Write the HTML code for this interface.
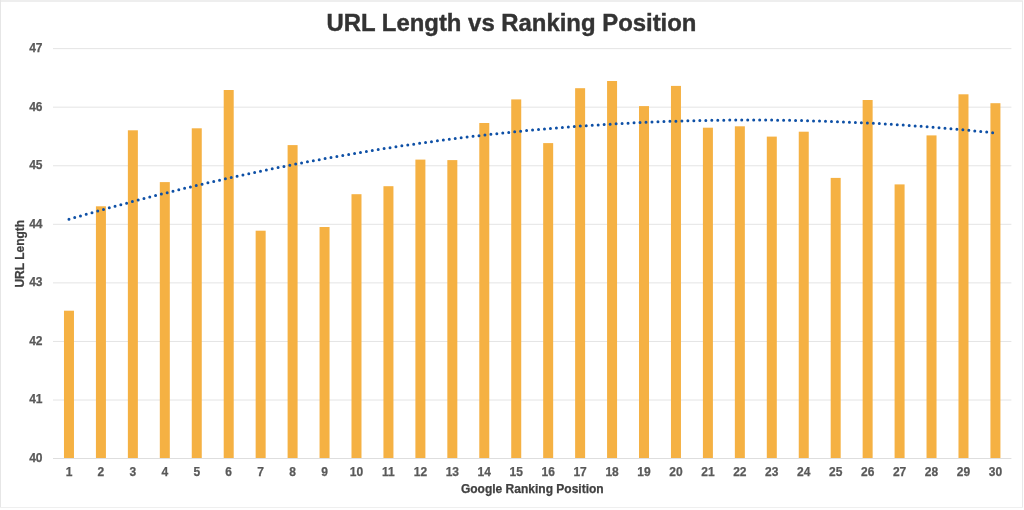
<!DOCTYPE html>
<html><head><meta charset="utf-8"><style>
html,body{margin:0;padding:0;background:#fff;}
body{width:1024px;height:510px;overflow:hidden;}
svg{display:block;will-change:transform;}
text{font-family:"Liberation Sans",Arial,sans-serif;font-weight:bold;}
</style></head><body>
<svg width="1024" height="510" viewBox="0 0 1024 510">
<rect x="0" y="0" width="1024" height="510" fill="#fff"/>
<rect x="0" y="0" width="1023" height="2" fill="#eeeeee"/>
<rect x="0" y="0" width="1" height="508" fill="#e6e6e6"/>
<rect x="1022" y="1" width="1" height="507" fill="#e8e8e8"/>
<rect x="0" y="507" width="1023" height="1" fill="#efefef"/>
<g stroke="#e4e4e4" stroke-width="1"><line x1="53.0" y1="400.03" x2="1011.4" y2="400.03"/><line x1="53.0" y1="341.46" x2="1011.4" y2="341.46"/><line x1="53.0" y1="282.89" x2="1011.4" y2="282.89"/><line x1="53.0" y1="224.32" x2="1011.4" y2="224.32"/><line x1="53.0" y1="165.75" x2="1011.4" y2="165.75"/><line x1="53.0" y1="107.18" x2="1011.4" y2="107.18"/><line x1="53.0" y1="48.61" x2="1011.4" y2="48.61"/></g>
<rect x="53.0" y="458" width="958.40" height="1" fill="#dedede"/>
<g fill="#f5b143"><rect x="63.97" y="310.70" width="10.0" height="147.30"/><rect x="95.92" y="206.30" width="10.0" height="251.70"/><rect x="127.87" y="130.30" width="10.0" height="327.70"/><rect x="159.81" y="182.10" width="10.0" height="275.90"/><rect x="191.76" y="128.30" width="10.0" height="329.70"/><rect x="223.71" y="90.00" width="10.0" height="368.00"/><rect x="255.65" y="230.70" width="10.0" height="227.30"/><rect x="287.60" y="145.10" width="10.0" height="312.90"/><rect x="319.55" y="227.00" width="10.0" height="231.00"/><rect x="351.49" y="194.20" width="10.0" height="263.80"/><rect x="383.44" y="186.20" width="10.0" height="271.80"/><rect x="415.39" y="159.60" width="10.0" height="298.40"/><rect x="447.33" y="160.10" width="10.0" height="297.90"/><rect x="479.28" y="123.00" width="10.0" height="335.00"/><rect x="511.23" y="99.40" width="10.0" height="358.60"/><rect x="543.17" y="143.10" width="10.0" height="314.90"/><rect x="575.12" y="88.20" width="10.0" height="369.80"/><rect x="607.07" y="81.00" width="10.0" height="377.00"/><rect x="639.01" y="106.10" width="10.0" height="351.90"/><rect x="670.96" y="85.90" width="10.0" height="372.10"/><rect x="702.91" y="127.70" width="10.0" height="330.30"/><rect x="734.85" y="126.30" width="10.0" height="331.70"/><rect x="766.80" y="136.60" width="10.0" height="321.40"/><rect x="798.75" y="131.70" width="10.0" height="326.30"/><rect x="830.69" y="177.90" width="10.0" height="280.10"/><rect x="862.64" y="100.00" width="10.0" height="358.00"/><rect x="894.59" y="184.40" width="10.0" height="273.60"/><rect x="926.53" y="135.40" width="10.0" height="322.60"/><rect x="958.48" y="94.30" width="10.0" height="363.70"/><rect x="990.43" y="103.20" width="10.0" height="354.80"/></g>
<path d="M68.97,219.26 L72.07,218.35 L75.17,217.46 L78.27,216.56 L81.37,215.67 L84.47,214.79 L87.56,213.90 L90.66,213.03 L93.76,212.15 L96.86,211.28 L99.96,210.42 L103.06,209.56 L106.16,208.70 L109.25,207.85 L112.35,207.00 L115.45,206.15 L118.55,205.31 L121.65,204.48 L124.75,203.64 L127.84,202.82 L130.94,201.99 L134.04,201.17 L137.14,200.36 L140.24,199.54 L143.34,198.74 L146.44,197.93 L149.53,197.13 L152.63,196.34 L155.73,195.55 L158.83,194.76 L161.93,193.98 L165.03,193.20 L168.13,192.42 L171.22,191.65 L174.32,190.89 L177.42,190.13 L180.52,189.37 L183.62,188.61 L186.72,187.86 L189.82,187.12 L192.91,186.38 L196.01,185.64 L199.11,184.91 L202.21,184.18 L205.31,183.45 L208.41,182.73 L211.50,182.01 L214.60,181.30 L217.70,180.59 L220.80,179.89 L223.90,179.19 L227.00,178.49 L230.10,177.80 L233.19,177.11 L236.29,176.43 L239.39,175.75 L242.49,175.07 L245.59,174.40 L248.69,173.73 L251.79,173.07 L254.88,172.41 L257.98,171.75 L261.08,171.10 L264.18,170.46 L267.28,169.81 L270.38,169.17 L273.47,168.54 L276.57,167.91 L279.67,167.28 L282.77,166.66 L285.87,166.04 L288.97,165.43 L292.07,164.82 L295.16,164.21 L298.26,163.61 L301.36,163.01 L304.46,162.42 L307.56,161.83 L310.66,161.25 L313.76,160.66 L316.85,160.09 L319.95,159.52 L323.05,158.95 L326.15,158.38 L329.25,157.82 L332.35,157.27 L335.44,156.71 L338.54,156.17 L341.64,155.62 L344.74,155.08 L347.84,154.55 L350.94,154.01 L354.04,153.49 L357.13,152.96 L360.23,152.44 L363.33,151.93 L366.43,151.42 L369.53,150.91 L372.63,150.41 L375.73,149.91 L378.82,149.42 L381.92,148.93 L385.02,148.44 L388.12,147.96 L391.22,147.48 L394.32,147.01 L397.41,146.54 L400.51,146.07 L403.61,145.61 L406.71,145.15 L409.81,144.70 L412.91,144.25 L416.01,143.80 L419.10,143.36 L422.20,142.93 L425.30,142.49 L428.40,142.06 L431.50,141.64 L434.60,141.22 L437.70,140.80 L440.79,140.39 L443.89,139.98 L446.99,139.58 L450.09,139.18 L453.19,138.78 L456.29,138.39 L459.39,138.01 L462.48,137.62 L465.58,137.24 L468.68,136.87 L471.78,136.50 L474.88,136.13 L477.98,135.77 L481.07,135.41 L484.17,135.05 L487.27,134.70 L490.37,134.36 L493.47,134.02 L496.57,133.68 L499.67,133.34 L502.76,133.02 L505.86,132.69 L508.96,132.37 L512.06,132.05 L515.16,131.74 L518.26,131.43 L521.36,131.12 L524.45,130.82 L527.55,130.53 L530.65,130.23 L533.75,129.94 L536.85,129.66 L539.95,129.38 L543.04,129.10 L546.14,128.83 L549.24,128.56 L552.34,128.30 L555.44,128.04 L558.54,127.79 L561.64,127.53 L564.73,127.29 L567.83,127.04 L570.93,126.80 L574.03,126.57 L577.13,126.34 L580.23,126.11 L583.33,125.89 L586.42,125.67 L589.52,125.46 L592.62,125.25 L595.72,125.04 L598.82,124.84 L601.92,124.64 L605.01,124.45 L608.11,124.26 L611.21,124.07 L614.31,123.89 L617.41,123.71 L620.51,123.54 L623.61,123.37 L626.70,123.21 L629.80,123.05 L632.90,122.89 L636.00,122.74 L639.10,122.59 L642.20,122.44 L645.30,122.30 L648.39,122.17 L651.49,122.04 L654.59,121.91 L657.69,121.78 L660.79,121.66 L663.89,121.55 L666.99,121.44 L670.08,121.33 L673.18,121.23 L676.28,121.13 L679.38,121.03 L682.48,120.94 L685.58,120.86 L688.67,120.77 L691.77,120.69 L694.87,120.62 L697.97,120.55 L701.07,120.48 L704.17,120.42 L707.27,120.36 L710.36,120.31 L713.46,120.26 L716.56,120.22 L719.66,120.18 L722.76,120.14 L725.86,120.10 L728.96,120.08 L732.05,120.05 L735.15,120.03 L738.25,120.01 L741.35,120.00 L744.45,119.99 L747.55,119.99 L750.64,119.99 L753.74,119.99 L756.84,120.00 L759.94,120.01 L763.04,120.03 L766.14,120.05 L769.24,120.07 L772.33,120.10 L775.43,120.14 L778.53,120.17 L781.63,120.21 L784.73,120.26 L787.83,120.31 L790.93,120.36 L794.02,120.42 L797.12,120.48 L800.22,120.55 L803.32,120.62 L806.42,120.69 L809.52,120.77 L812.61,120.85 L815.71,120.94 L818.81,121.03 L821.91,121.12 L825.01,121.22 L828.11,121.33 L831.21,121.43 L834.30,121.54 L837.40,121.66 L840.50,121.78 L843.60,121.90 L846.70,122.03 L849.80,122.16 L852.90,122.30 L855.99,122.44 L859.09,122.58 L862.19,122.73 L865.29,122.88 L868.39,123.04 L871.49,123.20 L874.58,123.36 L877.68,123.53 L880.78,123.70 L883.88,123.88 L886.98,124.06 L890.08,124.25 L893.18,124.44 L896.27,124.63 L899.37,124.83 L902.47,125.03 L905.57,125.24 L908.67,125.45 L911.77,125.66 L914.87,125.88 L917.96,126.10 L921.06,126.33 L924.16,126.56 L927.26,126.79 L930.36,127.03 L933.46,127.27 L936.56,127.52 L939.65,127.77 L942.75,128.03 L945.85,128.29 L948.95,128.55 L952.05,128.82 L955.15,129.09 L958.24,129.37 L961.34,129.65 L964.44,129.93 L967.54,130.22 L970.64,130.51 L973.74,130.81 L976.84,131.11 L979.93,131.41 L983.03,131.72 L986.13,132.04 L989.23,132.35 L992.33,132.67 L995.43,133.00" fill="none" stroke="#0e50a6" stroke-width="3" stroke-linecap="round" stroke-dasharray="0 5.985"/>
<text x="511.5" y="30.6" text-anchor="middle" font-size="23.9" fill="#333333" stroke="#333333" stroke-width="0.4">URL Length vs Ranking Position</text>
<g font-size="12" fill="#595959" stroke="#595959" stroke-width="0.25"><text x="42.5" y="461.80" text-anchor="end">40</text><text x="42.5" y="403.31" text-anchor="end">41</text><text x="42.5" y="344.83" text-anchor="end">42</text><text x="42.5" y="286.34" text-anchor="end">43</text><text x="42.5" y="227.86" text-anchor="end">44</text><text x="42.5" y="169.37" text-anchor="end">45</text><text x="42.5" y="110.88" text-anchor="end">46</text><text x="42.5" y="52.40" text-anchor="end">47</text></g>
<g font-size="12" fill="#595959" stroke="#595959" stroke-width="0.25" text-anchor="middle"><text x="68.97" y="476.1">1</text><text x="100.92" y="476.1">2</text><text x="132.87" y="476.1">3</text><text x="164.81" y="476.1">4</text><text x="196.76" y="476.1">5</text><text x="228.71" y="476.1">6</text><text x="260.65" y="476.1">7</text><text x="292.60" y="476.1">8</text><text x="324.55" y="476.1">9</text><text x="356.49" y="476.1">10</text><text x="388.44" y="476.1">11</text><text x="420.39" y="476.1">12</text><text x="452.33" y="476.1">13</text><text x="484.28" y="476.1">14</text><text x="516.23" y="476.1">15</text><text x="548.17" y="476.1">16</text><text x="580.12" y="476.1">17</text><text x="612.07" y="476.1">18</text><text x="644.01" y="476.1">19</text><text x="675.96" y="476.1">20</text><text x="707.91" y="476.1">21</text><text x="739.85" y="476.1">22</text><text x="771.80" y="476.1">23</text><text x="803.75" y="476.1">24</text><text x="835.69" y="476.1">25</text><text x="867.64" y="476.1">26</text><text x="899.59" y="476.1">27</text><text x="931.53" y="476.1">28</text><text x="963.48" y="476.1">29</text><text x="995.43" y="476.1">30</text></g>
<text x="532.3" y="493" text-anchor="middle" font-size="12" fill="#404040" stroke="#404040" stroke-width="0.25">Google Ranking Position</text>
<text transform="translate(24.3,253.7) rotate(-90)" text-anchor="middle" font-size="12" fill="#404040" stroke="#404040" stroke-width="0.25">URL Length</text>
</svg>
</body></html>
